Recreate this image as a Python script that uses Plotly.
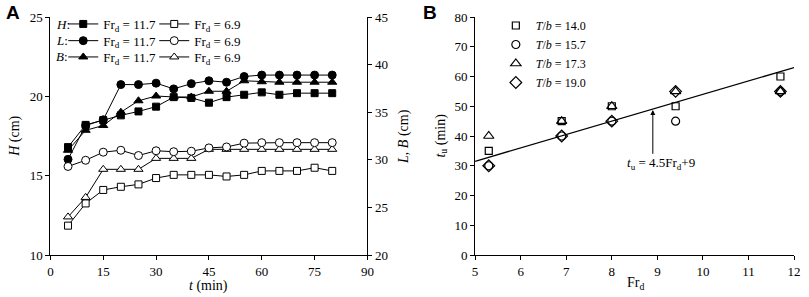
import plotly.graph_objects as go

# ---------------- Data: panel A ----------------
t_min = [5, 10, 15, 20, 25, 30, 35, 40, 45, 50, 55, 60, 65, 70, 75, 80]
H_fr117 = [16.8, 18.2, 18.5, 18.8, 19.05, 19.35, 19.95, 19.9, 19.6, 19.95, 20.1, 20.25, 20.1, 20.2, 20.2, 20.2]
H_fr69 = [11.85, 13.25, 14.1, 14.3, 14.45, 14.85, 15.05, 15.05, 15.05, 14.95, 15.05, 15.3, 15.3, 15.3, 15.5, 15.3]
L_fr117 = [30.05, 33.6, 34.2, 37.9, 37.9, 38.05, 37.45, 38.0, 38.3, 38.15, 38.75, 38.9, 38.9, 38.9, 38.9, 38.9]
L_fr69 = [29.3, 29.95, 30.8, 31.0, 30.45, 30.95, 30.85, 30.9, 31.25, 31.35, 31.75, 31.8, 31.8, 31.8, 31.8, 31.8]
B_fr117 = [31.0, 33.1, 33.6, 35.0, 36.2, 36.7, 36.6, 36.6, 37.2, 37.2, 38.3, 38.2, 38.15, 38.15, 38.15, 38.15]
B_fr69 = [24.0, 26.05, 29.0, 29.0, 29.0, 30.15, 30.15, 30.15, 31.1, 31.1, 31.1, 31.1, 31.1, 31.1, 31.1, 31.1]
legend_labels_A = ["Fr<sub>d</sub> = 11.7", "Fr<sub>d</sub> = 6.9"]

# ---------------- Data: panel B ----------------
Fr_d = [5.3, 6.9, 8.0, 9.4, 11.7]
tu_Tb140 = [35, 45, 50, 50, 60]
tu_Tb157 = [30, 40, 45, 45, 55]
tu_Tb173 = [40, 45, 50, 55, 55]
tu_Tb190 = [30, 40, 45, 55, 55]
Tb_labels = ["<i>T</i>/<i>b</i> = 14.0", "<i>T</i>/<i>b</i> = 15.7",
             "<i>T</i>/<i>b</i> = 17.3", "<i>T</i>/<i>b</i> = 19.0"]
fit_slope, fit_intercept = 4.5, 9
fit_x = [5, 12]

W, HT = 809, 297
TOP, BOT = 17, 255
SERIF = "Liberation Serif"

def xp(px):
    return px / W

def yp(py):
    return (BOT - py) / (BOT - TOP)

fig = go.Figure()
blk = "black"

def add_series(x, y, yaxis, symbol, filled, name, legend, size):
    fig.add_trace(go.Scatter(
        x=x, y=y, xaxis="x", yaxis=yaxis, mode="lines+markers", name=name,
        legend=legend, line=dict(color=blk, width=1),
        marker=dict(symbol=symbol, size=size, color=blk if filled else "white",
                    line=dict(color=blk, width=1))))

add_series(t_min, H_fr117, "y", "square", True, legend_labels_A[0], "legend", 7)
add_series(t_min, H_fr69, "y", "square", False, legend_labels_A[1], "legend", 7)
add_series(t_min, B_fr117, "y2", "triangle-up", True, legend_labels_A[0], "legend3", 8)
add_series(t_min, B_fr69, "y2", "triangle-up", False, legend_labels_A[1], "legend3", 8)
add_series(t_min, L_fr117, "y2", "circle", True, legend_labels_A[0], "legend2", 8)
add_series(t_min, L_fr69, "y2", "circle", False, legend_labels_A[1], "legend2", 8)

# Panel B
fig.add_trace(go.Scatter(x=fit_x, y=[fit_slope * v + fit_intercept for v in fit_x],
                         xaxis="x2", yaxis="y3", mode="lines", showlegend=False,
                         line=dict(color=blk, width=1.3)))
for ys, sym, lab, sz in [(tu_Tb140, "square-open", Tb_labels[0], 7),
                         (tu_Tb157, "circle-open", Tb_labels[1], 8),
                         (tu_Tb173, "triangle-up-open", Tb_labels[2], 9),
                         (tu_Tb190, "diamond-open", Tb_labels[3], 9)]:
    fig.add_trace(go.Scatter(x=Fr_d, y=ys, xaxis="x2", yaxis="y3", mode="markers",
                             name=lab, legend="legend4",
                             marker=dict(symbol=sym, size=sz, color=blk,
                                         line=dict(color=blk, width=1.2))))

tickfont = dict(family=SERIF, size=13, color=blk)
ax_common = dict(showgrid=False, zeroline=False, showline=True, linecolor=blk,
                 linewidth=1, ticks="outside", ticklen=4, tickcolor=blk,
                 tickwidth=1, tickfont=tickfont)

leg_common = dict(orientation="h", bgcolor="rgba(0,0,0,0)",
                  font=dict(family=SERIF, size=13, color=blk),
                  xanchor="left", yanchor="middle", itemwidth=30,
                  entrywidth=46, entrywidthmode="pixels")

fig.update_layout(
    width=W, height=HT, plot_bgcolor="white", paper_bgcolor="white",
    margin=dict(l=0, r=0, t=TOP, b=HT - BOT),
    xaxis=dict(domain=[xp(48), xp(369)], range=[0, 90], tick0=0, dtick=15,
               anchor="y", **ax_common),
    yaxis=dict(range=[10, 25], dtick=5, anchor="x", **ax_common),
    yaxis2=dict(range=[20, 45], dtick=5, overlaying="y", side="right",
                anchor="x", **ax_common),
    xaxis2=dict(domain=[xp(478), xp(801)], range=[5, 12], dtick=1,
                anchor="y3", **ax_common),
    yaxis3=dict(range=[0, 80], dtick=10, anchor="x2", **ax_common),
    legend=dict(x=xp(61), y=yp(24), **leg_common),
    legend2=dict(x=xp(61), y=yp(40.7), **leg_common),
    legend3=dict(x=xp(61), y=yp(57), **leg_common),
    legend4=dict(x=xp(499), y=yp(11), xanchor="left", yanchor="top",
                 bgcolor="rgba(0,0,0,0)", tracegroupgap=0,
                 font=dict(family=SERIF, size=12, color=blk)),
    showlegend=True,
)

ann = []
def txt(px, py, text, size=14, angle=0, xanchor="center", family=SERIF):
    ann.append(dict(x=xp(px), y=yp(py), xref="paper", yref="paper", text=text,
                    showarrow=False, textangle=angle, xanchor=xanchor,
                    yanchor="middle",
                    font=dict(family=family, size=size, color=blk)))

txt(10, 12, "<b>A</b>", size=19, family="Liberation Sans")
txt(432, 12, "<b>B</b>", size=19, family="Liberation Sans")
txt(12, 136, "<i>H</i> (cm)", angle=-90)
txt(406, 136, "<i>L</i>, <i>B</i> (cm)", angle=-90)
txt(208, 286, "<i>t</i> (min)")
txt(443, 136, "<i>t</i><sub>u</sub> (min)", angle=-90)
txt(640, 283, "Fr<sub>d</sub>")
txt(52, 24, "<i>H</i>:", size=13, xanchor="left")
txt(52, 40.7, "<i>L</i>:", size=13, xanchor="left")
txt(52, 57, "<i>B</i>:", size=13, xanchor="left")

# regression arrow and label
arrow_x = 8.9
ann.append(dict(x=arrow_x, y=fit_slope * arrow_x + fit_intercept - 0.3, xref="x2", yref="y3",
                ax=arrow_x, ay=33.5, axref="x2", ayref="y3", text="",
                showarrow=True, arrowhead=2, arrowsize=1, arrowwidth=1,
                arrowcolor=blk, standoff=0))
ann.append(dict(x=9.08, y=30.6, xref="x2", yref="y3",
                text="<i>t</i><sub>u</sub> = 4.5Fr<sub>d</sub>+9", showarrow=False,
                font=dict(family=SERIF, size=13, color=blk)))

fig.update_layout(annotations=ann)
fig.write_html("out.html", config={"displayModeBar": False},
               post_script="document.body.style.margin='0';")
